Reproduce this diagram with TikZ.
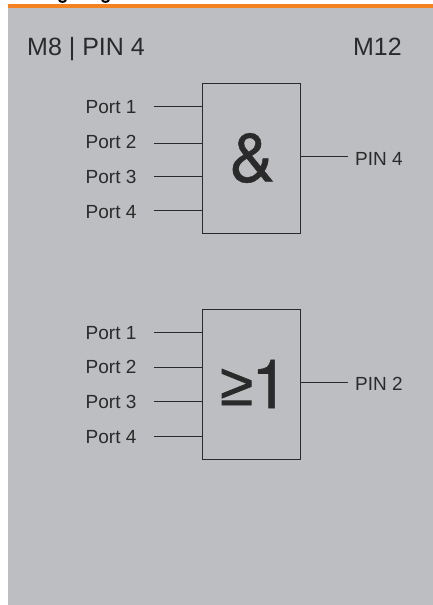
\documentclass[tikz,border=0pt]{standalone}
\usepackage{fontspec}
\setmainfont{Liberation Sans}
\newfontfamily\gatefont[FakeBold=0.6]{TeX Gyre Heros}
\newfontfamily\relfont[FakeBold=1.2]{Liberation Sans}
\definecolor{panel}{HTML}{BDBEC1}
\definecolor{band}{HTML}{F58220}
\definecolor{ink}{HTML}{2B2A2B}
\tikzset{
  x=1pt,y=-1pt,
  gatebox/.style={draw=ink,line width=1pt,minimum width=98pt,minimum height=150pt,inner sep=0pt,text=ink,font=\gatefont\fontsize{68}{68}\selectfont},
  portlabel/.style={anchor=base west,inner sep=0pt,text=ink,font=\fontsize{19}{19}\selectfont},
  headlabel/.style={inner sep=0pt,text=ink,font=\fontsize{25}{25}\selectfont},
  wire/.style={draw=ink,line width=.8pt},
  clipped/.style={draw=black,line width=2pt}
}
\begin{document}
\begin{tikzpicture}
\useasboundingbox (0,0) rectangle (433,605);
\fill[white] (0,0) rectangle (433,605);
\fill[panel] (8,8) rectangle (433,605);
\fill[band] (8,4) rectangle (433,8);
\draw[clipped] (59,0) .. controls (60,2.5) and (65,2.5) .. (66,0);
\draw[clipped] (102,0) .. controls (103,2.5) and (108,2.5) .. (109,0);
\node[headlabel,anchor=base west] (m8) at (27,55) {M8 | PIN 4};
\node[headlabel,anchor=base east] (m12) at (402,55) {M12};

\node[gatebox] (g1) at (251,158) {\kern2pt\&};
\node[gatebox] (g2) at (251,384) {\kern7pt\raisebox{-3pt}{\raisebox{3pt}{\relfont\fontsize{60}{60}\selectfont ≥}\kern-2pt 1}};

\foreach \g/\ya/\yb/\yc/\yd/\la/\lb/\lc/\ld in {g1/106.5/143/176/210/113/148/183/218,g2/332/367/401/436/339/373/408/443}{
  \foreach \i/\y/\t in {1/\ya/\la,2/\yb/\lb,3/\yc/\lc,4/\yd/\ld}{
    \node[portlabel] (\g l\i) at (85.5,\t) {Port \i};
    \coordinate (\g c\i) at (153.5,\y);
    \draw[wire] (\g c\i) -- (\g c\i -| \g.west);
  }
}
\node[portlabel] (pin4) at (355,165) {PIN 4};
\node[portlabel] (pin2) at (355,390) {PIN 2};
\coordinate (o1) at (348,156);
\coordinate (o2) at (348,382);
\draw[wire] (o1 -| g1.east) -- (o1);
\draw[wire] (o2 -| g2.east) -- (o2);
\end{tikzpicture}
\end{document}
